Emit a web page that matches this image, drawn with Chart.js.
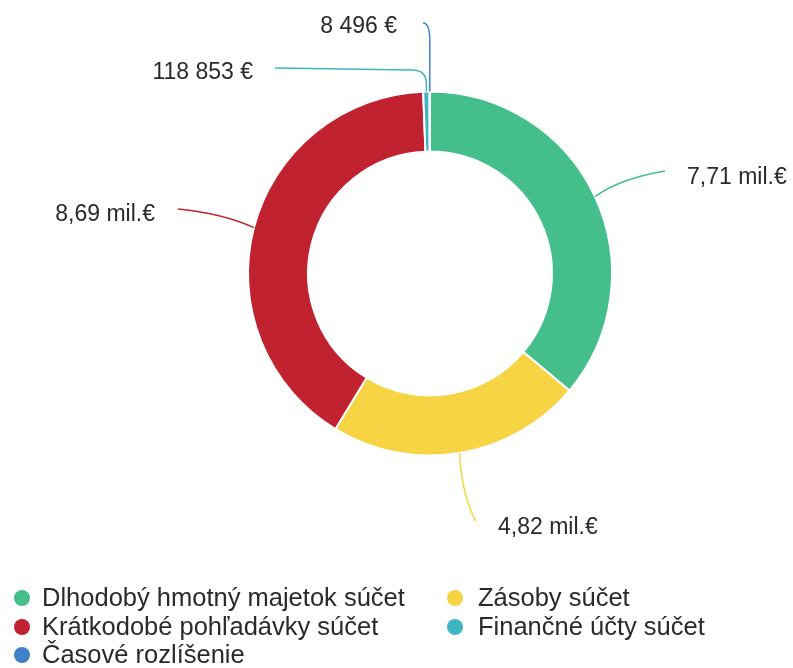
<!DOCTYPE html>
<html>
<head>
<meta charset="utf-8">
<script src="https://cdn.jsdelivr.net/npm/chart.js@4"></script>
<style>
  html, body { margin: 0; padding: 0; background: #fff; }
  #wrap { width: 793px; height: 668px; position: relative; }
</style>
</head>
<body>
<div id="wrap"><canvas id="assetChart" width="793" height="668"></canvas></div>
<script>
// Data
const categories = [
  "Dlhodobý hmotný majetok súčet",
  "Zásoby súčet",
  "Krátkodobé pohľadávky súčet",
  "Finančné účty súčet",
  "Časové rozlíšenie"
];
const values = [7710000, 4820000, 8690000, 118853, 8496];
const valueLabels = ["7,71 mil.€", "4,82 mil.€", "8,69 mil.€", "118 853 €", "8 496 €"];
const colors = ["#44bf8c", "#f6d444", "#c1222f", "#3fb5c2", "#3f82c9"];

// Legend order as printed (two columns, row by row)
const legendOrder = [0, 1, 2, 3, 4];

const FONT = "'Liberation Sans', Arial, sans-serif";

// Leader lines + value labels
const leaderPlugin = {
  id: "leaders",
  afterDatasetsDraw(chart) {
    const ctx = chart.ctx;
    const meta = chart.getDatasetMeta(0);
    ctx.save();
    ctx.lineWidth = 1.5;
    ctx.font = "23px " + FONT;
    ctx.fillStyle = "#2a2a2a";
    ctx.textBaseline = "middle";

    meta.data.forEach((arc, i) => {
      const p = arc.getProps(["x", "y", "startAngle", "endAngle", "outerRadius"], true);
      const mid = (p.startAngle + p.endAngle) / 2;
      const ex = p.x + Math.cos(mid) * p.outerRadius;
      const ey = p.y + Math.sin(mid) * p.outerRadius;
      ctx.strokeStyle = colors[i];
      ctx.beginPath();
      if (i === 0) {
        ctx.moveTo(ex, ey);
        ctx.quadraticCurveTo(ex + 25, ey - 18, 665, 171);
        ctx.stroke();
        ctx.textAlign = "left";
        ctx.fillText(valueLabels[i], 687, 178);
      } else if (i === 1) {
        ctx.moveTo(ex, ey);
        ctx.quadraticCurveTo(ex + 2, ey + 40, ex + 16, ey + 68);
        ctx.stroke();
        ctx.textAlign = "left";
        ctx.fillText(valueLabels[i], 498, 528);
      } else if (i === 2) {
        ctx.moveTo(ex, ey);
        ctx.quadraticCurveTo(ex - 30, ey - 14, 178, 209);
        ctx.stroke();
        ctx.textAlign = "right";
        ctx.fillText(valueLabels[i], 155, 215);
      } else if (i === 3) {
        ctx.moveTo(275, 68);
        ctx.lineTo(412, 70);
        ctx.quadraticCurveTo(ex, 70, ex, 84);
        ctx.lineTo(ex, ey);
        ctx.stroke();
        ctx.textAlign = "right";
        ctx.fillText(valueLabels[i], 253, 73);
      } else {
        ctx.moveTo(423, 23);
        ctx.quadraticCurveTo(ex, 23, ex, 40);
        ctx.lineTo(ex, ey);
        ctx.stroke();
        ctx.textAlign = "right";
        ctx.fillText(valueLabels[i], 397, 27);
      }
    });

    // Legend
    ctx.font = "25.5px " + FONT;
    ctx.textAlign = "left";
    const rowY = [598, 627, 655];
    const colX = [22, 455];
    legendOrder.forEach((idx, k) => {
      const col = k % 2;
      const row = Math.floor(k / 2);
      const cx = colX[col];
      const cy = rowY[row];
      ctx.fillStyle = colors[idx];
      ctx.beginPath();
      ctx.arc(cx, cy, 8, 0, Math.PI * 2);
      ctx.fill();
      ctx.fillStyle = "#2a2a2a";
      ctx.fillText(categories[idx], cx + (col === 0 ? 20 : 23), cy + 1);
    });
    ctx.restore();
  }
};

new Chart(document.getElementById("assetChart"), {
  type: "doughnut",
  data: {
    labels: categories,
    datasets: [{
      data: values,
      backgroundColor: colors,
      borderColor: "#fff",
      borderWidth: 2
    }]
  },
  options: {
    responsive: false,
    animation: false,
    cutout: "67%",
    layout: { padding: { top: 90, bottom: 211, left: 247, right: 180 } },
    plugins: {
      legend: { display: false },
      tooltip: { enabled: false }
    }
  },
  plugins: [leaderPlugin]
});
</script>
</body>
</html>
